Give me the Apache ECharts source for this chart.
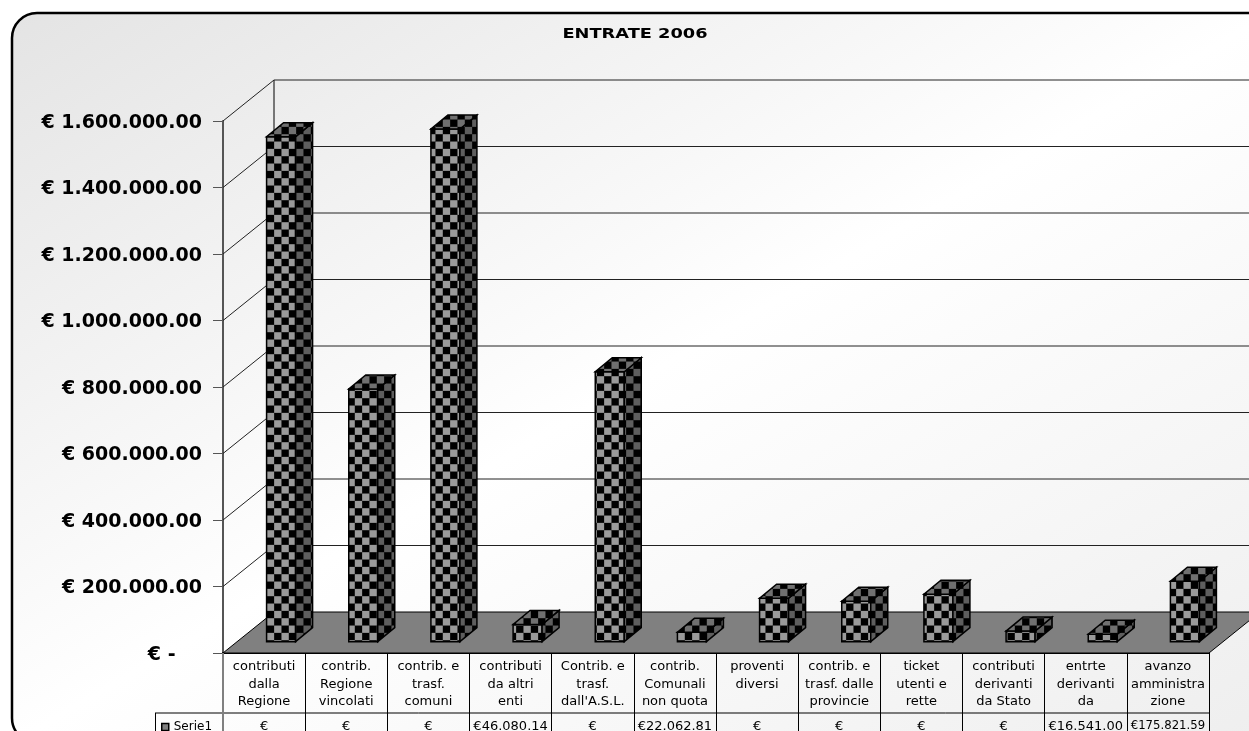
<!DOCTYPE html>
<html>
<head>
<meta charset="utf-8">
<style>html,body{margin:0;padding:0;background:#fff;overflow:hidden}#c{width:1249px;height:731px}</style>
<script src="https://cdn.jsdelivr.net/npm/echarts@6/dist/echarts.min.js"></script>
</head>
<body>
<div id="c"></div>
<script>
const titleText = 'ENTRATE 2006';
const seriesName = 'Serie1';
const categories = [
  'contributi\ndalla\nRegione','contrib.\nRegione\nvincolati','contrib. e\ntrasf.\ncomuni',
  'contributi\nda altri\nenti','Contrib. e\ntrasf.\ndall\'A.S.L.','contrib.\nComunali\nnon quota',
  'proventi\ndiversi','contrib. e\ntrasf. dalle\nprovincie','ticket\nutenti e\nrette',
  'contributi\nderivanti\nda Stato','entrte\nderivanti\nda','avanzo\namministra\nzione'
];
const values = [1513000,754000,1536000,46080.14,806000,22062.81,125000,116000,136600,26000,16541,175821.59];
const tableCells = ['€','€','€','€46.080.14','€','€22.062.81','€','€','€','€','€16.541.00','€175.821.59'];
const yTickValues = [0,200000,400000,600000,800000,1000000,1200000,1400000,1600000];
const yTickLabels = ['€ -    ','€ 200.000.00','€ 400.000.00','€ 600.000.00','€ 800.000.00','€ 1.000.000.00','€ 1.200.000.00','€ 1.400.000.00','€ 1.600.000.00'];

const DEPTH = {x: 51, y: -41};
const BAR = {shift: 17, lift: -11.3, liftTop: -13.3, half: 14.5, dx: 17, dy: -14};
const CELL = 44 / 6, PH_X = 2.8, PH_Y = 2.2;

function tile(light) {
  const cv = document.createElement('canvas');
  cv.width = cv.height = 44;
  const g = cv.getContext('2d');
  g.fillStyle = '#000';
  g.fillRect(0, 0, 44, 44);
  g.fillStyle = light;
  for (let i = -1; i < 7; i++) for (let j = -1; j < 7; j++) {
    if ((i + j + 200) % 2 === 0) g.fillRect(PH_X + i * CELL, PH_Y + j * CELL, CELL, CELL);
  }
  return {image: cv, repeat: 'repeat'};
}
const frontFill = tile('#9a9a9a');
const sideFill = tile('#5e5e5e');
const topFill = tile('#707070');

function renderFrame(params, api) {
  const cs = params.coordSys;
  const y = api.coord([0, api.value(1)])[1];
  const x0 = cs.x, x1 = cs.x + cs.width;
  const line = {stroke: '#000', lineWidth: 1};
  const ch = [];
  if (api.value(1) > 0) {
    ch.push({type: 'polyline', shape: {points: [[x0, y], [x0 + DEPTH.x, y + DEPTH.y], [x1 + DEPTH.x, y + DEPTH.y]]}, style: {fill: null, stroke: '#222', lineWidth: 1}});
  } else {
    const top = cs.y;
    ch.push({type: 'line', shape: {x1: x0 + DEPTH.x, y1: top + DEPTH.y, x2: x0 + DEPTH.x, y2: y + DEPTH.y}, style: line});
    ch.push({type: 'polygon', shape: {points: [[x0, y], [x0 + DEPTH.x, y + DEPTH.y], [x1 + DEPTH.x, y + DEPTH.y], [x1, y]]}, style: {fill: '#808080', stroke: '#000', lineWidth: 1}});
  }
  return {type: 'group', children: ch};
}

function renderBar(params, api) {
  const p = api.coord([api.value(0), api.value(1)]);
  const b = api.coord([api.value(0), 0]);
  const l = b[0] + BAR.shift - BAR.half, r = b[0] + BAR.shift + BAR.half;
  const yb = b[1] + BAR.lift, yt = p[1] + BAR.liftTop;
  const d = {stroke: '#000', lineWidth: 1.5, lineJoin: 'miter'};
  return {type: 'group', children: [
    {type: 'polygon', shape: {points: [[l, yb], [r, yb], [r, yt], [l, yt]]}, style: Object.assign({fill: frontFill}, d)},
    {type: 'polygon', shape: {points: [[r, yb], [r + BAR.dx, yb + BAR.dy], [r + BAR.dx, yt + BAR.dy], [r, yt]]}, style: Object.assign({fill: sideFill}, d)},
    {type: 'polygon', shape: {points: [[l, yt], [r, yt], [r + BAR.dx, yt + BAR.dy], [l + BAR.dx, yt + BAR.dy]]}, style: Object.assign({fill: topFill}, d)}
  ]};
}

const chart = echarts.init(document.getElementById('c'), null, {renderer: 'canvas', width: 1249, height: 731});
chart.setOption({
  animation: false,
  backgroundColor: '#fff',
  grid: {left: 223, right: 40, top: 121, bottom: 78, outerBoundsMode: 'none'},
  legend: {
    data: [{name: seriesName, icon: 'rect', itemStyle: {color: '#808080', borderColor: '#000', borderWidth: 1.5}}],
    left: 161, top: 721, itemWidth: 7, itemHeight: 7, itemGap: 4,
    textStyle: {fontFamily: 'DejaVu Sans', fontSize: 12, color: '#000', padding: [0, 0, 0, 0]},
    padding: 0, selectedMode: false
  },
  xAxis: [
    {type: 'category', data: categories, position: 'bottom', boundaryGap: true,
      axisLine: {lineStyle: {color: '#000', width: 2}},
      axisTick: {show: true, length: 78, inside: false, lineStyle: {color: '#000', width: 1}},
      axisLabel: {interval: 0, margin: 5, fontFamily: 'DejaVu Sans', fontSize: 13, lineHeight: 17.5, color: '#000', align: 'center', verticalAlign: 'top', hideOverlap: false}},
    {type: 'category', data: tableCells, position: 'bottom', boundaryGap: true,
      axisLine: {show: false}, axisTick: {show: false},
      axisLabel: {interval: 0, margin: 67, fontFamily: 'DejaVu Sans', fontSize: 13, color: '#000', align: 'center', verticalAlign: 'top', hideOverlap: false,
        formatter: (v) => v.length > 10 ? '{s|' + v + '}' : v,
        rich: {s: {fontFamily: 'DejaVu Sans', fontSize: 11.7, color: '#000'}}}}
  ],
  yAxis: {type: 'value', min: 0, max: 1600000, interval: 200000,
    axisLine: {show: true, lineStyle: {color: '#555', width: 2}},
    axisTick: {show: true, length: 10, lineStyle: {color: '#555', width: 1}},
    splitLine: {show: false},
    axisLabel: {margin: 21, fontFamily: 'DejaVu Sans', fontWeight: 'bold', fontSize: 19, color: '#000',
      formatter: (v) => '{a|' + yTickLabels[yTickValues.indexOf(v)] + '}',
      rich: {a: {fontFamily: 'DejaVu Sans', fontWeight: 'bold', fontSize: 19, color: '#000', padding: [4, 0, 0, 0]}}}},
  graphic: {elements: [
    {type: 'rect', silent: true, z: -10, shape: {x: 12, y: 13, width: 1260, height: 730, r: 25},
      style: {stroke: '#000', lineWidth: 2.5,
        fill: {type: 'linear', global: true, x: 12, y: 13, x2: 645, y2: 1106, colorStops: [{offset: 0, color: '#e4e4e4'}, {offset: 0.5, color: '#ffffff'}, {offset: 1, color: '#eeeeee'}]}}},
    {type: 'text', silent: true, z: 20, x: 635, y: 34, scaleX: 1.27,
      style: {text: titleText, fontFamily: 'DejaVu Sans', fontWeight: 'bold', fontSize: 14, fill: '#000', textAlign: 'center', textVerticalAlign: 'middle'}},
    {type: 'line', silent: true, z: 20, shape: {x1: 155, y1: 713, x2: 1209, y2: 713}, style: {stroke: '#000', lineWidth: 1}},
    {type: 'line', silent: true, z: 20, shape: {x1: 155.5, y1: 713, x2: 155.5, y2: 731}, style: {stroke: '#000', lineWidth: 1}},
    {type: 'line', silent: true, z: 20, shape: {x1: 223, y1: 653, x2: 223, y2: 731}, style: {stroke: '#808080', lineWidth: 2}}
  ]},
  series: [
    {type: 'custom', name: 'frame', xAxisIndex: 0, silent: true, z: 1, clip: false,
      data: yTickValues.map(v => [0, v]), renderItem: renderFrame},
    {type: 'custom', name: seriesName, xAxisIndex: 0, silent: true, z: 5, clip: false,
      data: values.map((v, i) => [i, v]), renderItem: renderBar}
  ]
});
</script>
</body>
</html>
